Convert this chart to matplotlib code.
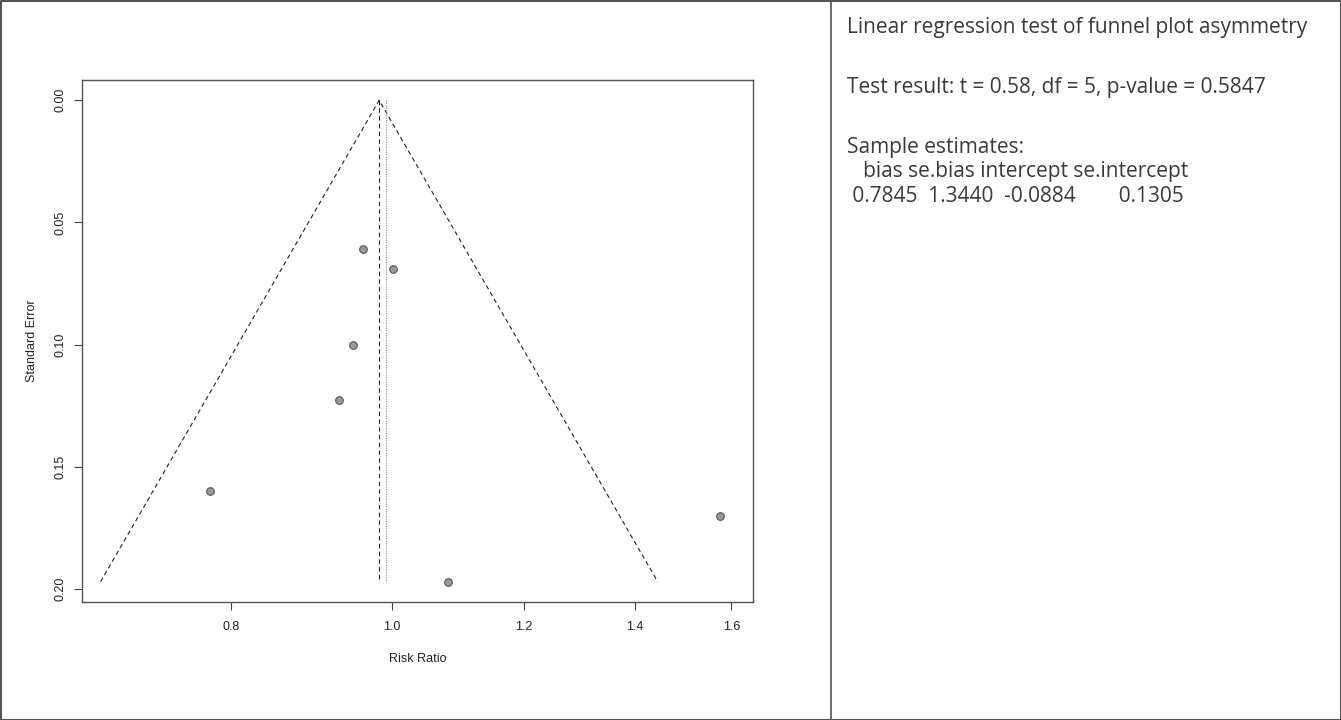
import numpy as np
import matplotlib
matplotlib.use("Agg")
import matplotlib.pyplot as plt
from matplotlib.lines import Line2D

# study estimates
risk_ratio = [0.960, 1.001, 0.947, 0.929, 0.777, 1.575, 1.081]
std_error = [0.061, 0.069, 0.100, 0.1225, 0.160, 0.170, 0.197]

# pooled estimates (funnel centre and the dotted reference line)
pooled_rr = 0.982
ref_rr = 0.991

x_ticks = [0.8, 1.0, 1.2, 1.4, 1.6]
y_ticks = [0.00, 0.05, 0.10, 0.15, 0.20]

result_lines = [
    ("Linear regression test of funnel plot asymmetry", 28),
    ("Test result: t = 0.58, df = 5, p-value = 0.5847", 88),
    ("Sample estimates:", 148),
    ("   bias se.bias intercept se.intercept", 172),
    (" 0.7845  1.3440  -0.0884        0.1305", 196),
]

W, H = 1341, 720
fig = plt.figure(figsize=(W / 100, H / 100), dpi=100)

# outer frame and the divider between the two cells
frame_col = "#555555"
fig.add_artist(Line2D([0.5 / W, 1 - 0.5 / W, 1 - 0.5 / W, 0.5 / W, 0.5 / W],
                      [0.5 / H, 0.5 / H, 1 - 0.5 / H, 1 - 0.5 / H, 0.5 / H],
                      transform=fig.transFigure, color=frame_col, lw=1.5))
fig.add_artist(Line2D([831 / W, 831 / W], [0, 1], transform=fig.transFigure,
                      color=frame_col, lw=1.2))

# funnel plot axes, pixel box 82..753 x 80..602
left, right, top, bottom = 82, 753, 80, 602
ax = fig.add_axes([left / W, 1 - bottom / H, (right - left) / W, (bottom - top) / H])
ax.set_xscale("log")

se_max = max(std_error)
lp = np.log(pooled_rr)
ax.plot([np.exp(lp - 1.96 * se_max), pooled_rr, np.exp(lp + 1.96 * se_max)],
        [se_max, 0, se_max], color="#222222", lw=0.8, ls=(0, (4, 3)))
ax.plot([pooled_rr, pooled_rr], [0, se_max], color="#222222", lw=0.8, ls=(0, (4, 3)))
ax.plot([ref_rr, ref_rr], [0, se_max], color="#888888", lw=0.8, ls=(0, (1, 1.2)))

ax.scatter(risk_ratio, std_error, s=30, c="#999999", edgecolors="#555555",
           linewidths=0.8, zorder=3)

ax.set_xlim(np.exp(-0.430), np.exp(0.500))
ax.set_ylim(0.2053, -0.0083)

ax.set_xticks(x_ticks)
ax.set_xticklabels([f"{v:.1f}" for v in x_ticks])
ax.xaxis.set_minor_locator(matplotlib.ticker.NullLocator())
ax.set_yticks(y_ticks)
ax.set_yticklabels([f"{v:.2f}" for v in y_ticks], rotation=90, va="center")

axis_font = {"family": ["Liberation Sans", "DejaVu Sans"], "size": 9}
for lab in ax.get_xticklabels() + ax.get_yticklabels():
    lab.set_fontfamily(axis_font["family"])
    lab.set_fontsize(axis_font["size"])
    lab.set_color("#222222")
ax.tick_params(axis="x", length=6, width=0.8, color="#444444", pad=8)
ax.tick_params(axis="y", length=6, width=0.8, color="#444444", pad=5)
ax.set_xlabel("Risk Ratio", fontdict=axis_font, labelpad=14, color="#222222")
ax.set_ylabel("Standard Error", fontdict=axis_font, labelpad=12, color="#222222")
for sp in ax.spines.values():
    sp.set_color("#555555")
    sp.set_linewidth(1.0)

# test output text in the right cell
for txt, y in result_lines:
    fig.text(847 / W, 1 - y / H, txt, ha="left", va="center", fontsize=15,
             family=["Open Sans", "DejaVu Sans"], color="#3a3a3a")

plt.savefig("out.png", dpi=100)
